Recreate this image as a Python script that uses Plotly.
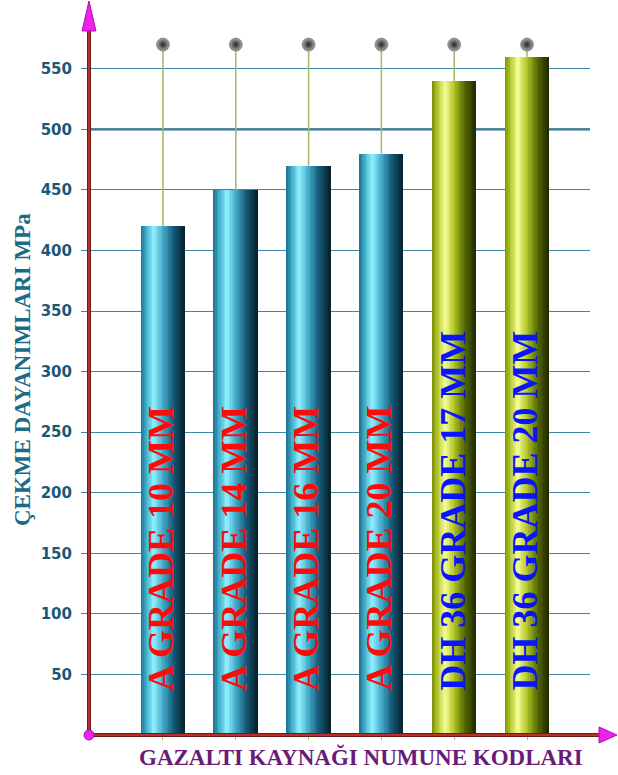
import plotly.graph_objects as go

# ---- data -------------------------------------------------------------
categories = ["A GRADE 10 MM", "A GRADE 14 MM", "A GRADE 16 MM",
              "A GRADE 20 MM", "DH 36 GRADE 17 MM", "DH 36 GRADE 20 MM"]
strength = [420, 450, 470, 480, 540, 560]          # MPa
series_kind = ["A", "A", "A", "A", "DH", "DH"]
cap_level = 570                                    # height of the ball markers
y_ticks = [50, 100, 150, 200, 250, 300, 350, 400, 450, 500, 550]
emphasis_tick = 500
label_base = 35                                    # bar labels start here (MPa)

# ---- styling ----------------------------------------------------------
W, H = 618, 775
L, R, T, B = 89, 28, 30, 40
Y_MAX = 582
X_RANGE = [-1.016, 5.865]
BAR_W = 0.6
N_STRIPS = 26

# cylinder shading stops (fraction across bar, colour)
blue_stops = [(0.0, (30, 110, 140)), (0.12, (60, 170, 200)), (0.30, (145, 240, 255)),
              (0.50, (70, 175, 205)), (0.75, (20, 90, 120)), (1.0, (6, 32, 42))]
green_stops = [(0.0, (120, 140, 10)), (0.12, (175, 195, 40)), (0.30, (245, 255, 150)),
               (0.50, (180, 200, 40)), (0.75, (85, 105, 0)), (1.0, (30, 40, 0))]


def shade(stops, f):
    for (f0, c0), (f1, c1) in zip(stops[:-1], stops[1:]):
        if f0 <= f <= f1:
            t = (f - f0) / (f1 - f0)
            c = [round(a + (b - a) * t) for a, b in zip(c0, c1)]
            return "rgb(%d,%d,%d)" % tuple(c)
    return "rgb(%d,%d,%d)" % stops[-1][1]


xpos = list(range(len(categories)))
fig = go.Figure()

# cylinder bars built from narrow vertical strips
strip_w = BAR_W / N_STRIPS
for i in range(N_STRIPS):
    f = (i + 0.5) / N_STRIPS
    cols = [shade(blue_stops if k == "A" else green_stops, f) for k in series_kind]
    fig.add_trace(go.Bar(
        x=xpos, y=strength, width=strip_w * 1.08,
        offset=-BAR_W / 2 + i * strip_w,
        marker=dict(color=cols, line=dict(width=0)),
        hoverinfo="skip", showlegend=False,
    ))

# stems from the ball markers down to the bar tops
sx, sy = [], []
for x, v in zip(xpos, strength):
    sx += [x, x, None]
    sy += [cap_level, v, None]
fig.add_trace(go.Scatter(x=sx, y=sy, mode="lines",
                         line=dict(color="#a9b96a", width=1.6),
                         hoverinfo="skip", showlegend=False))

# ball markers
fig.add_trace(go.Scatter(
    x=xpos, y=[cap_level] * len(xpos), mode="markers",
    marker=dict(size=13, color="#a8a8a8",
                gradient=dict(type="radial", color="#262626"),
                line=dict(width=0.5, color="#555555")),
    hoverinfo="skip", showlegend=False))

# vertical labels inside the bars
for x, name, k in zip(xpos, categories, series_kind):
    fig.add_annotation(
        x=x, y=label_base, text="<b>%s</b>" % name, textangle=-90, showarrow=False,
        xanchor="center", yanchor="bottom", xshift=-2,
        font=dict(family="Liberation Serif", size=36,
                  color="#ff0a0a" if k == "A" else "#0a14ff"),
    )

px_x = lambda p: (p - L) / (W - L - R)
px_y = lambda p: (H - B - p) / (H - B - T)

axis_red = "#b8302c"
magenta = "#ee22ee"
shapes = [
    # emphasised grid line
    dict(type="line", xref="paper", yref="y", x0=0, x1=1,
         y0=emphasis_tick, y1=emphasis_tick, line=dict(color="#1a5f7e", width=2.2),
         layer="below"),
    # axis lines
    dict(type="line", xref="paper", yref="paper", x0=0, x1=0, y0=0, y1=1,
         line=dict(color="#6e1a18", width=4), layer="above"),
    dict(type="line", xref="paper", yref="paper", x0=0, x1=0, y0=0, y1=1,
         line=dict(color=axis_red, width=2), layer="above"),
    dict(type="line", xref="paper", yref="paper", x0=0, x1=px_x(602), y0=0, y1=0,
         line=dict(color="#6e1a18", width=4), layer="above"),
    dict(type="line", xref="paper", yref="paper", x0=0, x1=px_x(602), y0=0, y1=0,
         line=dict(color=axis_red, width=2), layer="above"),
    # arrow heads
    dict(type="path", xref="paper", yref="paper", layer="above",
         path="M %f %f L %f %f L %f %f Z" % (px_x(82), px_y(31), px_x(89), px_y(1),
                                             px_x(96), px_y(31)),
         fillcolor=magenta, line=dict(color="#b010b0", width=1)),
    dict(type="path", xref="paper", yref="paper", layer="above",
         path="M %f %f L %f %f L %f %f Z" % (px_x(599), px_y(727), px_x(617), px_y(735),
                                             px_x(599), px_y(743)),
         fillcolor=magenta, line=dict(color="#b010b0", width=1)),
    # origin knob
    dict(type="circle", xref="paper", yref="paper", layer="above",
         x0=px_x(84), x1=px_x(94), y0=px_y(740), y1=px_y(730),
         fillcolor=magenta, line=dict(color="#b010b0", width=1)),
]

annotations_extra = [
    dict(text="<b>ÇEKME DAYANIMLARI MPa</b>", xref="paper", yref="paper",
         x=px_x(22), y=px_y(370), textangle=-90, showarrow=False,
         xanchor="center", yanchor="middle",
         font=dict(family="Liberation Serif", size=23, color="#1b6a86")),
    dict(text="<b>GAZALTI KAYNAĞI NUMUNE KODLARI</b>", xref="paper", yref="paper",
         x=px_x(361), y=px_y(757), showarrow=False,
         xanchor="center", yanchor="middle",
         font=dict(family="Liberation Serif", size=23, color="#6a1a78")),
]
for a in annotations_extra:
    fig.add_annotation(**a)

fig.update_layout(
    width=W, height=H,
    margin=dict(l=L, r=R, t=T, b=B, pad=0),
    paper_bgcolor="white", plot_bgcolor="white",
    barmode="overlay", bargap=0,
    showlegend=False,
    shapes=shapes,
    xaxis=dict(range=X_RANGE, showgrid=False, zeroline=False, showline=False,
               tickvals=xpos, ticktext=[""] * len(xpos), ticks="outside",
               ticklen=4, tickcolor="#a9b96a", fixedrange=True),
    yaxis=dict(range=[0, Y_MAX], tickvals=y_ticks, showgrid=True,
               gridcolor="#3f86a3", gridwidth=1, zeroline=False, showline=False,
               ticks="outside", ticklen=7, tickcolor="#3f86a3",
               ticklabelstandoff=6,
               tickfont=dict(family="DejaVu Sans", size=15, color="#1a5878",
                             weight="bold"),
               fixedrange=True),
)

fig.write_html("out.html")
